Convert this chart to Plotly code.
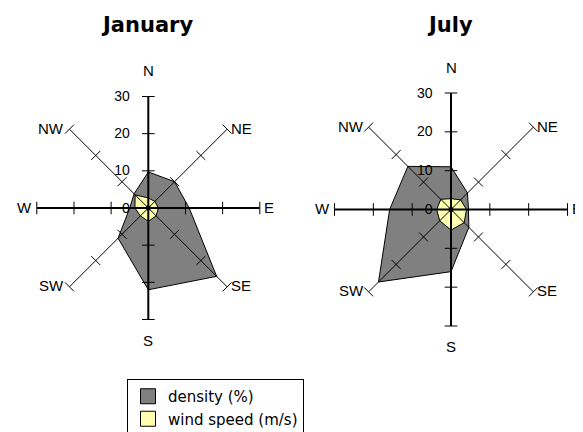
import math
import plotly.graph_objects as go

# ---- data ----
directions = ["N", "NE", "E", "SE", "S", "SW", "W", "NW"]
compass_deg = [0, 45, 90, 135, 180, 225, 270, 315]
jan_density = [9.7, 10, 11, 26, 22, 11.5, 5, 5.4]
jan_speed = [2.7, 2.5, 2.7, 3.0, 3.6, 3.0, 3.6, 5.0]
jul_density = [11, 6, 4.5, 6.5, 16, 26.4, 15.8, 15.7]
jul_speed = [2.8, 3.5, 4.0, 4.8, 5.3, 4.1, 3.7, 3.7]
radial_ticks = [10, 20, 30]
months = ["January", "July"]
series_names = ["density (%)", "wind speed (m/s)"]
series_colors = ["#808080", "#FFFFB0"]

W, H = 583, 432
OFF = 8  # page body margin offset
# polar placement (pixel centre and radius, in figure coordinates)
centres = [(148.3 - OFF, 208.0 - OFF, 111.5), (451.0 - OFF, 209.5 - OFF, 116.5)]

fig = go.Figure()

def closed(lst):
    return list(lst) + [lst[0]]

rmax = radial_ticks[-1]
data = [(jan_density, jan_speed), (jul_density, jul_speed)]
for k, (dens, spd) in enumerate(data):
    sub = "polar" if k == 0 else "polar2"
    theta_c = closed(directions)
    fig.add_trace(go.Scatterpolar(r=closed(dens), theta=theta_c, mode="lines", fill="toself",
                                  fillcolor=series_colors[0], line=dict(color="black", width=1),
                                  subplot=sub, showlegend=False, hoverinfo="skip"))
    fig.add_trace(go.Scatterpolar(r=closed(spd), theta=theta_c, mode="lines", fill="toself",
                                  fillcolor=series_colors[1], line=dict(color="black", width=1),
                                  subplot=sub, showlegend=False, hoverinfo="skip"))
    # spokes drawn over the fills: diagonals thin, cardinals thick
    for i in range(4):
        a, b = directions[i], directions[i + 4]
        wdt = 2 if i % 2 == 0 else 1
        fig.add_trace(go.Scatterpolar(r=[rmax, 0, rmax], theta=[a, a, b],
                                      mode="lines", line=dict(color="black", width=wdt),
                                      subplot=sub, showlegend=False, hoverinfo="skip"))
    # tick crosses on each spoke
    tr, tt, ta = [], [], []
    for d, ang in zip(directions, compass_deg):
        for rv in radial_ticks:
            tr.append(rv); tt.append(d); ta.append(ang)
    fig.add_trace(go.Scatterpolar(r=tr, theta=tt, mode="markers",
                                  marker=dict(symbol="line-ew", size=9, angle=ta,
                                              line=dict(color="black", width=1)),
                                  subplot=sub, showlegend=False, hoverinfo="skip"))
    # centre dot
    fig.add_trace(go.Scatterpolar(r=[0], theta=["N"], mode="markers",
                                  marker=dict(symbol="circle", size=5, color="black"),
                                  subplot=sub, showlegend=False, hoverinfo="skip"))

# legend entries
for name, col in zip(series_names, series_colors):
    fig.add_trace(go.Scatterpolar(r=[None], theta=[None], mode="markers", name=name,
                                  marker=dict(symbol="square", size=15, color=col,
                                              line=dict(color="black", width=1)),
                                  subplot="polar", showlegend=True))

def polar_layout(cx, cy, rad):
    cyp = H - cy
    return dict(
        domain=dict(x=[(cx - rad) / W, (cx + rad) / W], y=[(cyp - rad) / H, (cyp + rad) / H]),
        bgcolor="white",
        angularaxis=dict(categoryorder="array", categoryarray=directions, rotation=90,
                         direction="clockwise", showline=False, showgrid=False,
                         ticks="", showticklabels=False),
        radialaxis=dict(range=[0, 30], dtick=10, angle=90, side="counterclockwise",
                        showgrid=False, showline=False,
                        ticks="outside", ticklen=13, tickcolor="rgba(0,0,0,0)",
                        tickangle=90, layer="above traces",
                        tickfont=dict(family="Liberation Sans, Arial", size=14, color="black")),
    )

annotations = []
lab_font = dict(family="Liberation Sans, Arial", size=15, color="black")
for (cx, cy, rad), m in zip(centres, months):
    annotations.append(dict(text="<b>" + m + "</b>", x=(cx - 1) / W, y=1 - (25 - OFF) / H,
                            xref="paper", yref="paper", xanchor="center", yanchor="middle",
                            showarrow=False, font=dict(family="DejaVu Sans", size=21, color="black")))
    # direction labels around each rose
    for d, ang in zip(directions, compass_deg):
        s, c = math.sin(math.radians(ang)), math.cos(math.radians(ang))
        ex, ey = cx + rad * s, cy - rad * c
        if d == "N":
            x, y, xa, ya = ex, ey - 15, "center", "bottom"
        elif d == "S":
            x, y, xa, ya = ex, ey + 10, "center", "top"
        elif s > 0:
            x, y, xa, ya = ex + 2, ey - 1, "left", "middle"
        else:
            x, y, xa, ya = ex - 3, ey - 1, "right", "middle"
        annotations.append(dict(text=d, x=x / W, y=1 - y / H, xref="paper", yref="paper",
                                xanchor=xa, yanchor=ya, showarrow=False, font=lab_font))

fig.update_layout(
    width=W, height=H,
    margin=dict(l=0, r=0, t=0, b=0),
    paper_bgcolor="white", plot_bgcolor="white",
    polar=polar_layout(*centres[0]),
    polar2=polar_layout(*centres[1]),
    annotations=annotations,
    font=dict(family="Liberation Sans, Arial", color="black"),
    legend=dict(x=119 / W, y=1 - 371 / H, xanchor="left", yanchor="top",
                bordercolor="black", borderwidth=1, bgcolor="white",
                font=dict(family="DejaVu Sans", size=15, color="black"),
                itemwidth=30, tracegroupgap=0),
    showlegend=True,
)

fig.write_html("out.html")
